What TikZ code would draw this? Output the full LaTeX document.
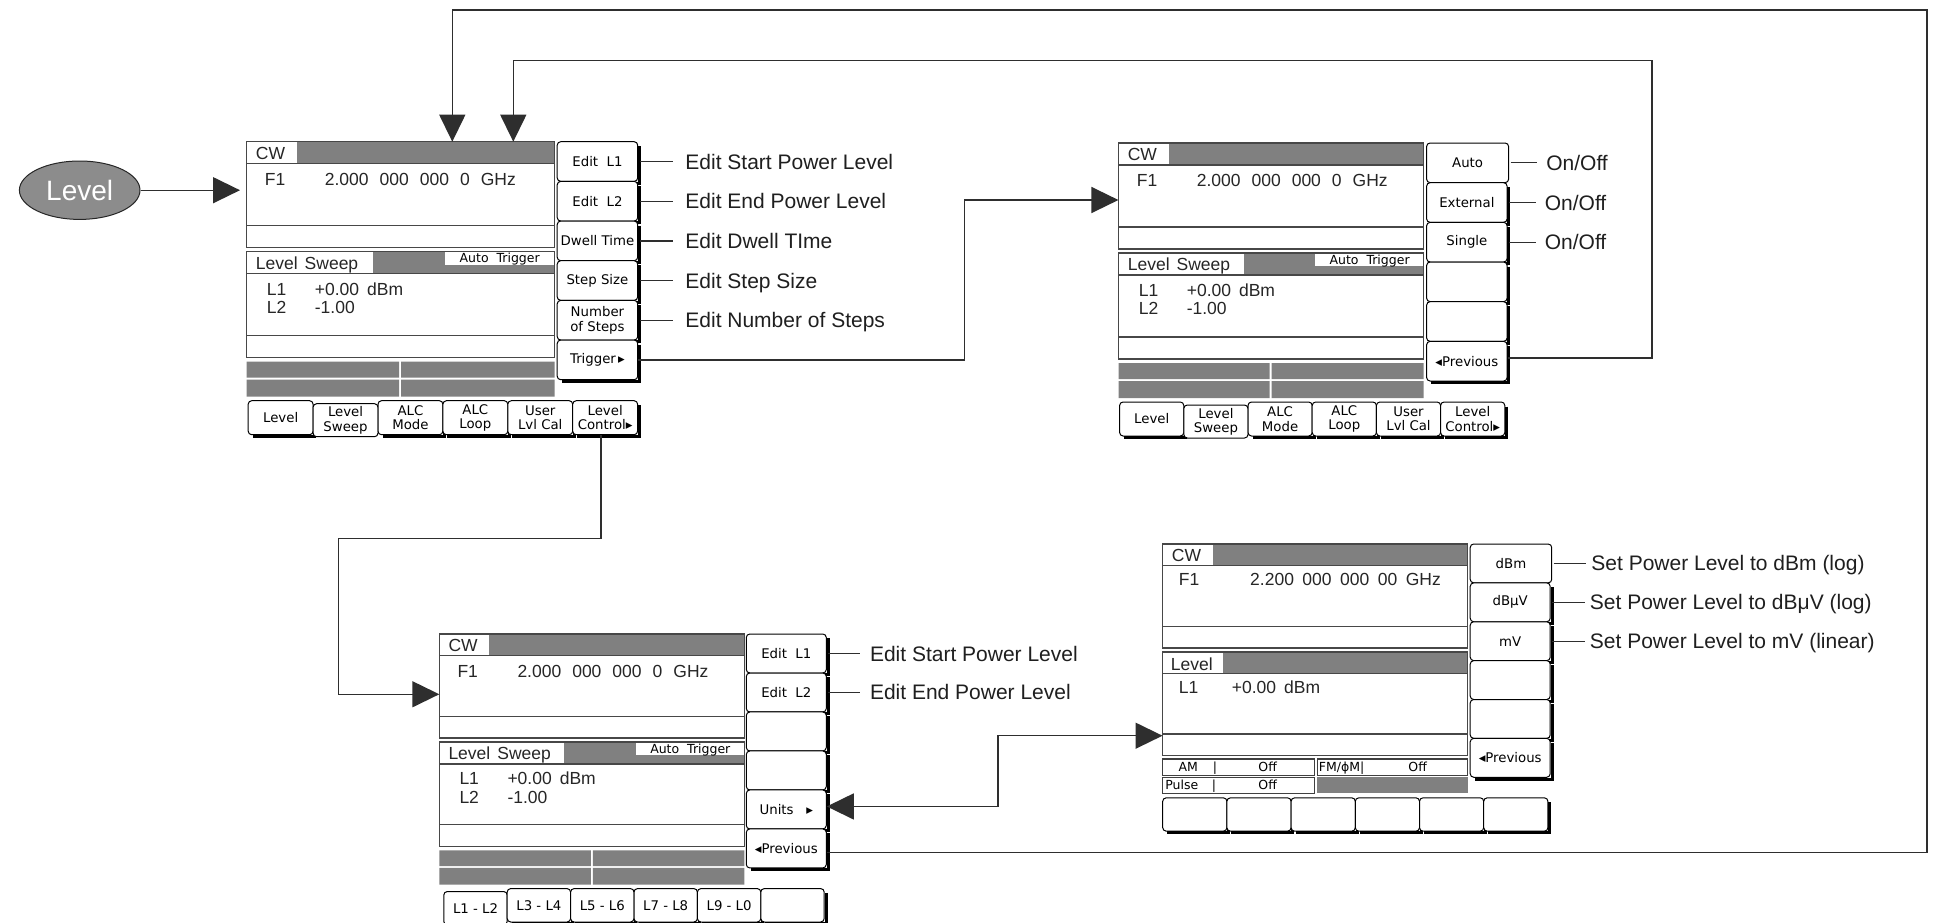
\documentclass[tikz,border=0pt]{standalone}
\usepackage{fontspec}
\setmainfont{Liberation Sans}
\newfontfamily\keyfont{DejaVu Sans}
\usetikzlibrary{arrows.meta,shapes.geometric,fit,calc}

\tikzset{
  dline/.style={draw=black!72, line width=1.5pt},
  sline/.style={draw=black!75, line width=1.2pt},
  hatch/.style={fill=black!50},
  keyline/.style={draw=black, line width=1pt, rounded corners=3.5pt, fill=white},
  keysh/.style={draw=black, line width=3pt},
  ktext/.style={font=\keyfont\fontsize{13.3}{14.3}\selectfont, inner sep=0pt, align=center},
  stext/.style={font=\keyfont\fontsize{12.5}{13}\selectfont, inner sep=0pt, text height=9pt, text depth=0pt},
  dtext/.style={font=\fontsize{17.5}{18}\selectfont, inner sep=0pt, anchor=west, text height=12.6pt, text depth=0pt, text=black!85},
  anno/.style={font=\fontsize{21}{22}\selectfont, inner sep=0pt, anchor=west, text height=15pt, text depth=0pt, text=black!88},
  conn/.style={draw=black!82, line width=1.4pt},
  leader/.style={draw=black!82, line width=1.3pt},
  ah/.tip={Triangle[length=27pt,width=26pt]},
}

% key with shadow: name, x1, y1, x2, y2, text
\newcommand\kb[6]{%
  \node[keyline, fit={({#2},{#3}) ({#4},{#5})}, inner sep=0pt] (#1) {};
  \draw[keysh] ([xshift=1.3pt,yshift=-5pt]#1.north east) -- ([xshift=1.3pt,yshift=-1.3pt]#1.south east) -- ([xshift=5pt,yshift=-1.3pt]#1.south west);
  \node[ktext] (#1-t) at (#1.center) {#6};
}
% selected key without shadow
\newcommand\kbs[6]{%
  \node[keyline, fit={({#2},{#3}) ({#4},{#5})}, inner sep=0pt] (#1) {};
  \node[ktext] (#1-t) at (#1.center) {#6};
}

\begin{document}
\begin{tikzpicture}[x=1pt,y=-1pt]
\clip (0,0) rectangle (1940,922);
\fill[white] (0,0) rectangle (1940,922);

% ================= Screen A =================
\begin{scope}[shift={(246.7,141.7)}]
  \node[fit={(0,0) (308,255)}, inner sep=0pt] (A-disp) {};
  \coordinate (A-in1) at (205.6,0);
  \coordinate (A-in2) at (266.6,0);
  \fill[hatch] (50,0) rectangle (308,22);
  \draw[dline] (0,0) rectangle (308,106) (0,22) -- (308,22) (0,84) -- (308,84);
  \fill[hatch] (126,110) rectangle (308,132);
  \fill[white] (198,110) rectangle (308,123);
  \draw[dline] (0,110) rectangle (308,216) (0,132) -- (308,132) (0,194) -- (308,194);
  \fill[hatch] (0,220) rectangle (152.5,236) (154.5,220) rectangle (308,236)
               (0,238) rectangle (152.5,255) (154.5,238) rectangle (308,255);
  \node[dtext] (A-cw) at (9,11.5) {CW};
  \node[dtext] (A-f1) at (18,37.5) {F1};
  \node[dtext] (A-fr) at (78,37.5) {2.000\hspace{11pt}000\hspace{11pt}000\hspace{11pt}0\hspace{11pt}GHz};
  \node[dtext] (A-ls) at (9,121.5) {Level\hspace{7pt}Sweep};
  \node[stext] (A-at) at (253,116.5) {Auto\ \ Trigger};
  \node[dtext] (A-l1) at (20,147) {L1};
  \node[dtext] (A-v1) at (68,147) {+0.00\hspace{8pt}dBm};
  \node[dtext] (A-l2) at (20,165.5) {L2};
  \node[dtext] (A-v2) at (68,165.5) {-1.00};
  \foreach \i/\t in {1/{Edit\ \ L1},2/{Edit\ \ L2},3/{Dwell Time},4/{Step Size},5/{Number\\of Steps},6/{Trigger\,▸}}{
    \kb{A-s\i}{310.5}{(\i-1)*39.667}{391}{\i*39.667}{\t}}
  \foreach \i/\t in {1/Level,2/{Level\\Sweep},3/{ALC\\Mode},4/{ALC\\Loop},5/{User\\Lvl Cal},6/{Level\\Control▸}}{
    \ifnum\i=2 \kbs{A-b\i}{1.5+(\i-1)*64.9}{262}{1.5+\i*64.9}{295}{\t}%
    \else \kb{A-b\i}{1.5+(\i-1)*64.9}{259}{1.5+\i*64.9}{293}{\t}\fi}
\end{scope}

% ================= Screen B =================
\begin{scope}[shift={(1118.6,143)}]
  \node[fit={(0,0) (305,255)}, inner sep=0pt] (B-disp) {};
  \fill[hatch] (50,0) rectangle (305,22);
  \draw[dline] (0,0) rectangle (305,106) (0,22) -- (305,22) (0,84) -- (305,84);
  \fill[hatch] (125,110) rectangle (305,132);
  \fill[white] (196,110) rectangle (305,123);
  \draw[dline] (0,110) rectangle (305,216) (0,132) -- (305,132) (0,194) -- (305,194);
  \fill[hatch] (0,220) rectangle (151,236) (153,220) rectangle (305,236)
               (0,238) rectangle (151,255) (153,238) rectangle (305,255);
  \node[dtext] (B-cw) at (9,11.5) {CW};
  \node[dtext] (B-f1) at (18,37.5) {F1};
  \node[dtext] (B-fr) at (78,37.5) {2.000\hspace{11pt}000\hspace{11pt}000\hspace{11pt}0\hspace{11pt}GHz};
  \node[dtext] (B-ls) at (9,121.5) {Level\hspace{7pt}Sweep};
  \node[stext] (B-at) at (251,116.5) {Auto\ \ Trigger};
  \node[dtext] (B-l1) at (20,147) {L1};
  \node[dtext] (B-v1) at (68,147) {+0.00\hspace{8pt}dBm};
  \node[dtext] (B-l2) at (20,165.5) {L2};
  \node[dtext] (B-v2) at (68,165.5) {-1.00};
  \kbs{B-s1}{308}{0}{390}{39.667}{Auto}
  \foreach \i/\t in {2/External,3/Single,4/{},5/{},6/{◂Previous}}{
    \kb{B-s\i}{308}{(\i-1)*39.667}{388.5}{\i*39.667}{\t}}
  \foreach \i/\t in {1/Level,2/{Level\\Sweep},3/{ALC\\Mode},4/{ALC\\Loop},5/{User\\Lvl Cal},6/{Level\\Control▸}}{
    \ifnum\i=2 \kbs{B-b\i}{1+(\i-1)*64.2}{262}{1+\i*64.2}{295}{\t}%
    \else \kb{B-b\i}{1+(\i-1)*64.2}{259}{1+\i*64.2}{293}{\t}\fi}
\end{scope}

% ================= Screen C =================
\begin{scope}[shift={(439.3,634)}, yscale=0.983]
  \node[fit={(0,0) (305,255)}, inner sep=0pt] (C-disp) {};
  \coordinate (C-in) at (0,61.3);
  \fill[hatch] (50,0) rectangle (305,22);
  \draw[dline] (0,0) rectangle (305,106) (0,22) -- (305,22) (0,84) -- (305,84);
  \fill[hatch] (125,110) rectangle (305,132);
  \fill[white] (197,110) rectangle (305,123);
  \draw[dline] (0,110) rectangle (305,216) (0,132) -- (305,132) (0,194) -- (305,194);
  \fill[hatch] (0,220) rectangle (151.5,236) (153.5,220) rectangle (305,236)
               (0,238) rectangle (151.5,255) (153.5,238) rectangle (305,255);
  \node[dtext] (C-cw) at (9,11.5) {CW};
  \node[dtext] (C-f1) at (18,37.5) {F1};
  \node[dtext] (C-fr) at (78,37.5) {2.000\hspace{11pt}000\hspace{11pt}000\hspace{11pt}0\hspace{11pt}GHz};
  \node[dtext] (C-ls) at (9,121.5) {Level\hspace{7pt}Sweep};
  \node[stext] (C-at) at (251,116.5) {Auto\ \ Trigger};
  \node[dtext] (C-l1) at (20,147) {L1};
  \node[dtext] (C-v1) at (68,147) {+0.00\hspace{8pt}dBm};
  \node[dtext] (C-l2) at (20,165.5) {L2};
  \node[dtext] (C-v2) at (68,165.5) {-1.00};
  \foreach \i/\t in {1/{Edit\ \ L1},2/{Edit\ \ L2},3/{},4/{},5/{Units\ \ \ ▸},6/{◂Previous}}{
    \kb{C-s\i}{307}{(\i-1)*39.667}{387}{\i*39.667}{\t}}
  \foreach \i/\t in {1/{L1 - L2},2/{L3 - L4},3/{L5 - L6},4/{L7 - L8},5/{L9 - L0},6/{}}{
    \ifnum\i=1 \kbs{C-b\i}{4.5+(\i-1)*63.4}{262}{4.5+\i*63.4}{296}{\t}%
    \else \kb{C-b\i}{4.5+(\i-1)*63.4}{259}{4.5+\i*63.4}{293}{\t}\fi}
\end{scope}

% ================= Screen D =================
\begin{scope}[shift={(1162.7,544)}, yscale=0.98]
  \node[fit={(0,0) (305,255)}, inner sep=0pt] (D-disp) {};
  \fill[hatch] (50,0) rectangle (305,22);
  \draw[dline] (0,0) rectangle (305,106) (0,22) -- (305,22) (0,84) -- (305,84);
  \fill[hatch] (60,110) rectangle (305,132);
  \draw[dline] (0,110) rectangle (305,216) (0,132) -- (305,132) (0,194) -- (305,194);
  \draw[sline] (0,219.4) rectangle (152,236.4) (154.5,219.4) rectangle (305,236.4) (0,238) rectangle (152,254.5);
  \fill[hatch] (154.5,238) rectangle (305,254.5);
  \node[dtext] (D-cw) at (9,11.5) {CW};
  \node[dtext] (D-f1) at (16,36) {F1};
  \node[dtext] (D-fr) at (87.3,36) {2.200\hspace{8.5pt}000\hspace{8.5pt}000\hspace{8.5pt}00\hspace{8.5pt}GHz};
  \node[dtext] (D-lv) at (8,123) {Level};
  \node[dtext] (D-l1) at (16,145.6) {L1};
  \node[dtext] (D-v1) at (69,145.6) {+0.00\hspace{8pt}dBm};
  \node[stext, anchor=west] (D-am) at (15.7,227.9) {AM};
  \node[stext] (D-am1) at (52.3,227.9) {|};
  \node[stext] (D-am2) at (105,227.9) {Off};
  \node[stext, anchor=west] (D-pu) at (2.5,246.2) {Pulse};
  \node[stext] (D-pu1) at (51.3,246.2) {|};
  \node[stext] (D-pu2) at (105,246.2) {Off};
  \node[stext, anchor=west] (D-fm) at (156,227.9) {FM/ϕM|};
  \node[stext] (D-fm2) at (255,227.9) {Off};
  \kbs{D-s1}{307.5}{0}{389}{39.667}{dBm}
  \foreach \i/\t in {2/{dBµV},3/mV,4/{},5/{},6/{◂Previous}}{
    \kb{D-s\i}{307.5}{(\i-1)*39.667}{387.5}{\i*39.667}{\t}}
  \foreach \i in {1,...,6}{
    \kb{D-b\i}{(\i-1)*64.2}{259}{\i*64.2}{293}{}}
\end{scope}

% ================= Level oval =================
\node[ellipse, draw=black!85, line width=1pt, fill=black!45, minimum width=120.6pt, minimum height=58.4pt,
      inner sep=0pt, text=white, font=\fontsize{28}{28}\selectfont] (oval) at (79.7,190.2) {Level};

% ================= Annotations =================
\node[anno] (A-n1) at ([xshift=47pt]A-s1.east) {Edit Start Power Level};
\node[anno] (A-n2) at ([xshift=47pt]A-s2.east) {Edit End Power Level};
\node[anno] (A-n3) at ([xshift=47pt]A-s3.east) {Edit Dwell TIme};
\node[anno] (A-n4) at ([xshift=47pt]A-s4.east) {Edit Step Size};
\node[anno] (A-n5) at ([xshift=47pt]A-s5.east) {Edit Number of Steps};
\foreach \i in {1,...,5}{\draw[leader, shorten <=1.5pt, shorten >=12pt] (A-s\i.east) -- (A-n\i.west);}

\node[anno] (B-n1) at ([xshift=37pt]B-s1.east) {On/Off};
\node[anno] (B-n2) at ([xshift=37pt]B-s2.east) {On/Off};
\node[anno] (B-n3) at ([xshift=37pt]B-s3.east) {On/Off};
\foreach \i in {1,2,3}{\draw[leader, shorten <=1.5pt, shorten >=9pt] (B-s\i.east) -- (B-n\i.west);}

\node[anno] (C-n1) at ([xshift=43pt]C-s1.east) {Edit Start Power Level};
\node[anno] (C-n2) at ([xshift=43pt]C-s2.east) {Edit End Power Level};
\foreach \i in {1,2}{\draw[leader, shorten <=1.5pt, shorten >=10pt] (C-s\i.east) -- (C-n\i.west);}

\node[anno] (D-n1) at ([xshift=39pt]D-s1.east) {Set Power Level to dBm (log)};
\node[anno] (D-n2) at ([xshift=39pt]D-s2.east) {Set Power Level to dBμV (log)};
\node[anno] (D-n3) at ([xshift=39pt]D-s3.east) {Set Power Level to mV (linear)};
\foreach \i in {1,2,3}{\draw[leader, shorten <=1.5pt, shorten >=5pt] (D-s\i.east) -- (D-n\i.west);}

% ================= Connectors =================
\coordinate (oTR) at (1927,10);
\coordinate (iTR) at (1652,60.7);
\coordinate (tK) at (964.5,200);
\coordinate (lcK) at (338.3,538.5);
\coordinate (uK) at (998,735.7);

\draw[conn,-ah, shorten >=6.5pt] (oval) -- (oval -| A-disp.west);
\draw[conn,-ah] ([yshift=-4pt]C-s6.east) -| (oTR) -| (A-in1);
\draw[conn,-ah] ([yshift=3pt]B-s6.east) -| (iTR) -| (A-in2);
\draw[conn,-ah] (A-s6.east) -| (tK) -- (tK -| B-disp.west);
\draw[conn,-ah] ([xshift=-4pt]A-b6.south) |- (lcK) |- (C-in);
\draw[conn,ah-ah] ([yshift=3pt]C-s5.east) -| (uK) -- (uK -| D-disp.west);

\end{tikzpicture}
\end{document}
